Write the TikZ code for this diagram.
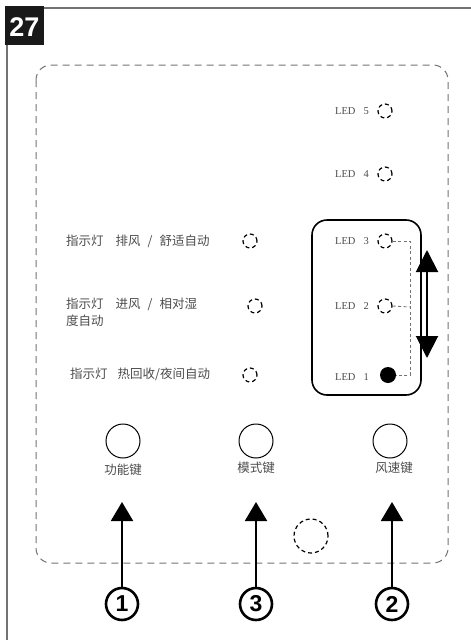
\documentclass[tikz,border=0pt]{standalone}
\usepackage{fontspec}
\setmainfont{Liberation Serif}
\newfontfamily\cjk{Noto Sans CJK SC}
\newfontfamily\hv{Liberation Sans}
\usetikzlibrary{arrows.meta}
\definecolor{txtgray}{gray}{0.3}
\definecolor{lngray}{gray}{0.45}
\newcommand{\ledtxt}[1]{LED\hspace{8pt}#1}
\tikzset{
  ledlbl/.style={font=\fontsize{10.5}{11}\selectfont, text=txtgray, inner sep=0pt},
  cnlbl/.style={font=\cjk\fontsize{12.5}{17}\selectfont, text=txtgray, inner sep=0pt, align=left},
  ledoff/.style={circle, draw, minimum size=14pt, inner sep=0pt, line width=1.2pt, dash pattern=on 4pt off 3pt},
  ledon/.style={circle, fill, minimum size=16pt, inner sep=0pt},
  keybtn/.style={circle, draw, minimum size=34pt, inner sep=0pt, line width=1pt},
  numc/.style={circle, draw, minimum size=32pt, inner sep=0pt, line width=2.6pt, font=\hv\bfseries\fontsize{23}{23}\selectfont},
  uparr/.style={line width=2pt, -{Triangle[width=22pt,length=19pt]}},
  guide/.style={lngray, line width=0.9pt, dash pattern=on 3pt off 2.5pt},
}
\begin{document}
\begin{tikzpicture}[x=1pt,y=-1pt]
\useasboundingbox (0,0) rectangle (471,640);
% frame
\fill[black!90] (5,6) rectangle (44,45);
\node[text=white, font=\hv\bfseries\fontsize{27}{27}\selectfont, inner sep=0pt] (num27) at (24.5,27) {27};
\draw[lngray, line width=1.5pt] (44,8) -- (471,8);
\draw[lngray, line width=1.5pt] (7,45) -- (7,640);
% outer dashed panel
\draw[lngray, line width=1pt, dash pattern=on 7pt off 5pt, rounded corners=15pt] (36,65) rectangle (448,563);
% LED column
\node[ledlbl, anchor=east] (l5) at (369,111) {\ledtxt{5}};
\node[ledoff] (c5) at (385,111) {};
\node[ledlbl, anchor=east] (l4) at (369,174) {\ledtxt{4}};
\node[ledoff] (c4) at (385,174) {};
\draw[line width=1.6pt, rounded corners=15pt] (312,220) rectangle (421,395);
\node[ledlbl, anchor=east] (l3) at (369,241) {\ledtxt{3}};
\node[ledoff] (c3) at (385,241) {};
\node[ledlbl, anchor=east] (l2) at (369,306) {\ledtxt{2}};
\node[ledoff] (c2) at (385,306) {};
\node[ledlbl, anchor=east] (l1) at (369,377) {\ledtxt{1}};
\node[ledon] (c1) at (388,375) {};
\coordinate (g3) at (410,241);
\coordinate (g2) at (410,307);
\coordinate (g1) at (410,375);
\draw[guide] (c3.east) -- (g3) -- (g1) -- (c1.east);
\draw[guide] (c2.east) -- (g2);
\coordinate (da) at (427,250);
\coordinate (db) at (427,358);
\draw[line width=2pt, {Triangle[width=22pt,length=22pt]}-{Triangle[width=22pt,length=22pt]}] (da) -- (db);
% left indicators
\node[cnlbl, anchor=west] (t1) at (66,241) {指示灯\hspace{12pt}排风\hspace{7pt}/\hspace{7pt}舒适自动};
\node[ledoff] (m1) at (250,241) {};
\node[cnlbl, anchor=north west] (t2) at (66,298) {指示灯\hspace{12pt}进风\hspace{7pt}/\hspace{7pt}相对湿\\度自动};
\node[ledoff] (m2) at (255,306) {};
\node[cnlbl, anchor=west] (t3) at (70,374) {指示灯\hspace{10pt}热回收/夜间自动};
\node[ledoff] (m3) at (250,375) {};
% keys
\node[keybtn] (k1) at (123,441) {};
\node[keybtn] (k3) at (256,441) {};
\node[keybtn] (k2) at (390,441) {};
\node[cnlbl] (kl1) at (123,470) {功能键};
\node[cnlbl] (kl3) at (256,468) {模式键};
\node[cnlbl] (kl2) at (394,468) {风速键};
\node[ledoff, minimum size=34pt] (sens) at (311,536) {};
% numbers
\node[numc] (n1) at (122,604) {1};
\node[numc] (n3) at (256,604) {3};
\node[numc] (n2) at (392,604) {2};
\coordinate (a1) at (122,502);
\coordinate (a3) at (256,502);
\coordinate (a2) at (392,502);
\draw[uparr] (n1.north) -- (a1);
\draw[uparr] (n3.north) -- (a3);
\draw[uparr] (n2.north) -- (a2);
\end{tikzpicture}
\end{document}
